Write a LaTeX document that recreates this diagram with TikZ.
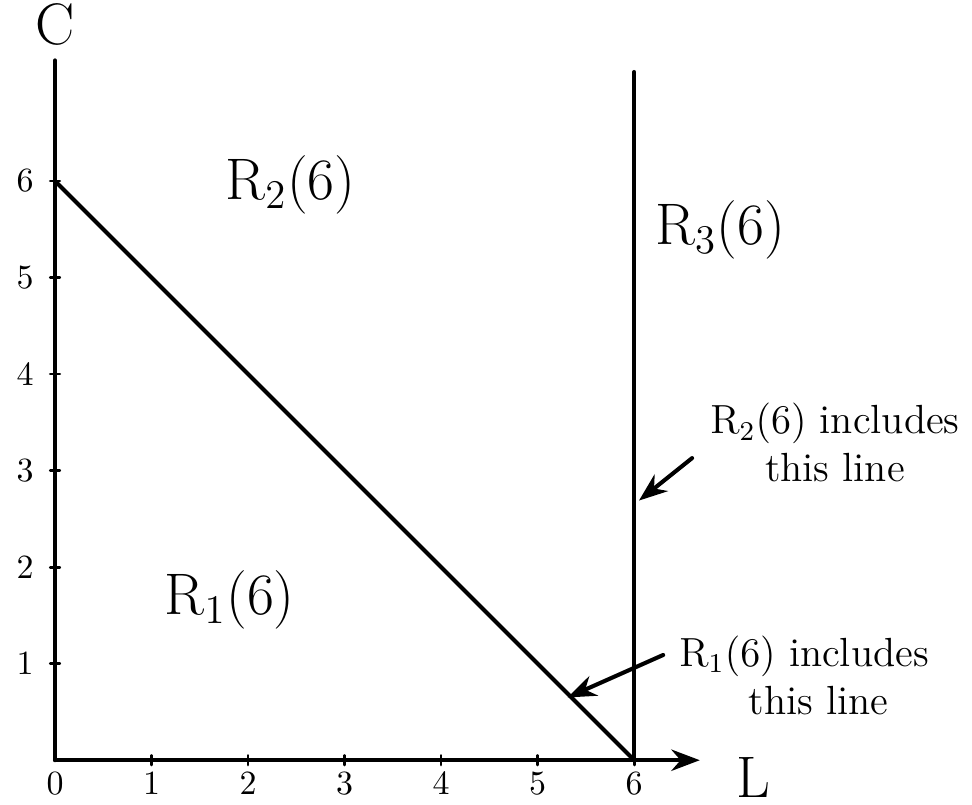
\documentclass[tikz,border=0pt]{standalone}
\usepackage{amsmath}
\usetikzlibrary{arrows.meta}

\begin{document}
\begin{tikzpicture}[>=Stealth, line width=1.2pt, line cap=round, line join=round, scale=1]

    % Stili
    \tikzset{region/.style={font=\LARGE},
             note/.style={font=\large, align=center},
             ticklab/.style={font=\normalsize}}

    \useasboundingbox (-0.57,-0.456) rectangle (9.50,7.876);

    % Punti principali
    \coordinate (O) at (0, 0);
    \coordinate (ytop) at (0, 7.25);
    \coordinate (xend) at (6.68, 0);
    \coordinate (c6) at (0, 6);
    \coordinate (l6) at (6, 0);
    \coordinate (vtop) at (6, 7.13);

    % Assi
    \draw (O) -- (ytop);
    \draw[->] (O) -- (xend);
    \node (C) at (0, 7.62) {\LARGE C};
    \node (L) at (7.23, -0.18) {\LARGE L};

    % Tacche e numeri
    \foreach \i in {1,...,6} {
        \draw[line width=0.8pt] (\i, -0.05) -- (\i, 0.05);
        \draw[line width=0.8pt] (-0.05, \i) -- (0.05, \i);
        \node[ticklab] at (-0.31, \i) {\i};
    }
    \foreach \i in {0,...,6}
        \node[ticklab] at (\i, -0.24) {\i};

    % Linee delle regioni
    \draw (c6) -- (l6);
    \draw (l6) -- (vtop);

    % Etichette delle regioni
    \node[region] (r1) at (1.81, 1.66) {$\mathrm{R_1(6)}$};
    \node[region] (r2) at (2.44, 5.96) {$\mathrm{R_2(6)}$};
    \node[region] (r3) at (6.89, 5.49) {$\mathrm{R_3(6)}$};

    % Note con frecce
    \node[note] (n2) at (8.08, 3.29) {$\mathrm{R_2(6)}$ includes\\this line};
    \node[note] (n1) at (7.76, 0.88) {$\mathrm{R_1(6)}$ includes\\\hspace*{0.3cm}this line};
    \coordinate (s2) at (6.60, 3.13);
    \coordinate (p2) at (6.05, 2.69);
    \coordinate (s1) at (6.30, 1.09);
    \coordinate (p1) at (5.31, 0.65);
    \draw[->] (s2) -- (p2);
    \draw[->] (s1) -- (p1);

\end{tikzpicture}
\end{document}
